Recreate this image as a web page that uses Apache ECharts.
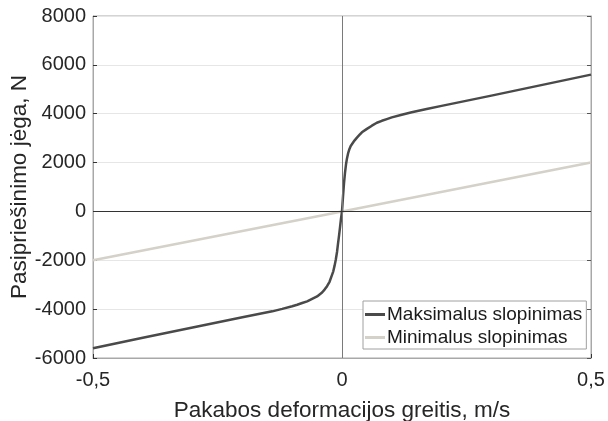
<!DOCTYPE html>
<html>
<head>
<meta charset="utf-8">
<script src="https://cdn.jsdelivr.net/npm/echarts@6/dist/echarts.min.js"></script>
<style>
  html, body { margin: 0; padding: 0; background: #ffffff; }
  #chart { width: 608px; height: 421px; }
</style>
</head>
<body>
<div id="chart"></div>
<script>
// Damper force vs. deformation velocity
const velocity = [-0.5, -0.4, -0.3, -0.2, -0.17, -0.14, -0.12, -0.1, -0.09, -0.08, -0.07, -0.06, -0.05, -0.04, -0.035, -0.03, -0.025,
                  -0.02, -0.0175, -0.015, -0.0125, -0.01, -0.008, -0.006, -0.004, -0.002, 0,
                  0.002, 0.004, 0.006, 0.008, 0.01, 0.0125, 0.015, 0.0175, 0.02, 0.025, 0.03, 0.035, 0.04, 0.05, 0.06,
                  0.07, 0.08, 0.09, 0.1, 0.12, 0.14, 0.17, 0.2, 0.3, 0.4, 0.5];
const forceMax = [-5600, -5170, -4750, -4330, -4210, -4090, -3990, -3880, -3820, -3750, -3680, -3580, -3480, -3320, -3200, -3060, -2880,
                  -2600, -2450, -2230, -1980, -1660, -1320, -1000, -650, -300, 0,
                  600, 1150, 1580, 1920, 2170, 2400, 2560, 2680, 2760, 2900, 3020, 3130, 3240, 3380, 3510,
                  3630, 3710, 3780, 3850, 3960, 4060, 4190, 4320, 4740, 5170, 5600];
const velocityMin = [-0.5, 0, 0.5];
const forceMin = [-2000, 0, 2000];
const yTicks = [-6000, -4000, -2000, 0, 2000, 4000, 6000, 8000];

const seriesNames = ['Maksimalus slopinimas', 'Minimalus slopinimas'];
const xTitle = 'Pakabos deformacijos greitis, m/s';
const yTitle = 'Pasipriešinimo jėga, N';

const FONT = '"Liberation Sans", Arial, sans-serif';
const pairs = (xs, ys) => xs.map((x, i) => [x, ys[i]]);

const chart = echarts.init(document.getElementById('chart'), null, { renderer: 'canvas' });

chart.setOption({
  animation: false,
  backgroundColor: '#ffffff',
  grid: {
    left: 93, top: 16, right: 17, bottom: 63,
    containLabel: false, outerBoundsMode: 'none',
    show: true, borderColor: '#a8a8a8', borderWidth: 1, backgroundColor: 'transparent'
  },
  xAxis: {
    type: 'value', min: -0.5, max: 0.5, interval: 0.5,
    name: xTitle, nameLocation: 'middle', nameGap: 41, nameMoveOverlap: false,
    nameTextStyle: { fontFamily: FONT, fontSize: 22.5, color: '#262626' },
    axisLine: { show: true, onZero: false, lineStyle: { color: '#a8a8a8', width: 1 } },
    axisTick: { show: true, inside: true, length: 4, lineStyle: { color: '#333' } },
    axisLabel: {
      fontFamily: FONT, fontSize: 20, color: '#262626', margin: 12,
      formatter: v => String(v).replace('.', ',')
    },
    splitLine: { show: false }
  },
  yAxis: [{
    type: 'value', min: yTicks[0], max: yTicks[yTicks.length - 1], interval: 2000,
    name: yTitle, nameLocation: 'middle', nameGap: 62, nameRotate: 90, nameMoveOverlap: false,
    nameTextStyle: { fontFamily: FONT, fontSize: 22.5, color: '#262626' },
    axisLine: { show: true, onZero: false, lineStyle: { color: '#a8a8a8', width: 1 } },
    axisTick: { show: true, inside: true, length: 4, lineStyle: { color: '#333' } },
    axisLabel: { fontFamily: FONT, fontSize: 20, color: '#262626', margin: 7, formatter: v => String(v) },
    splitLine: { show: true, lineStyle: { color: '#e6e6e6', width: 1 } }
  }, {
    type: 'value', min: yTicks[0], max: yTicks[yTicks.length - 1], interval: 2000,
    position: 'right',
    axisLine: { show: true, onZero: false, lineStyle: { color: '#a8a8a8', width: 1 } },
    axisTick: { show: true, inside: true, length: 4, lineStyle: { color: '#555' } },
    axisLabel: { show: false },
    splitLine: { show: false }
  }],
  legend: {
    orient: 'vertical',
    left: 363, top: 301,
    padding: [4, 4, 2, 2],
    itemGap: 4,
    itemWidth: 20, itemHeight: 3,
    icon: 'rect',
    backgroundColor: '#ffffff',
    borderColor: '#a0a0a0', borderWidth: 1,
    textStyle: { fontFamily: FONT, fontSize: 19, color: '#1a1a1a', padding: [0, 0, 0, -3] },
    data: seriesNames
  },
  series: [
    {
      // zero reference lines
      type: 'line', data: [], silent: true, xAxisIndex: 0, yAxisIndex: 0,
      markLine: {
        silent: true, symbol: 'none', label: { show: false }, animation: false,
        data: [
          { xAxis: 0, lineStyle: { color: '#7a7a7a', width: 1, type: 'solid' } },
          { yAxis: 0, lineStyle: { color: '#333333', width: 1, type: 'solid' } }
        ]
      }
    },
    {
      name: seriesNames[1], type: 'line', data: pairs(velocityMin, forceMin),
      showSymbol: false, color: '#d4d1c9',
      lineStyle: { color: '#d4d1c9', width: 2.5 }, z: 3
    },
    {
      name: seriesNames[0], type: 'line', data: pairs(velocity, forceMax),
      showSymbol: false, smooth: false, color: '#4a4a4a',
      lineStyle: { color: '#4a4a4a', width: 2.5, join: 'round' }, z: 4
    }
  ]
});
</script>
</body>
</html>
